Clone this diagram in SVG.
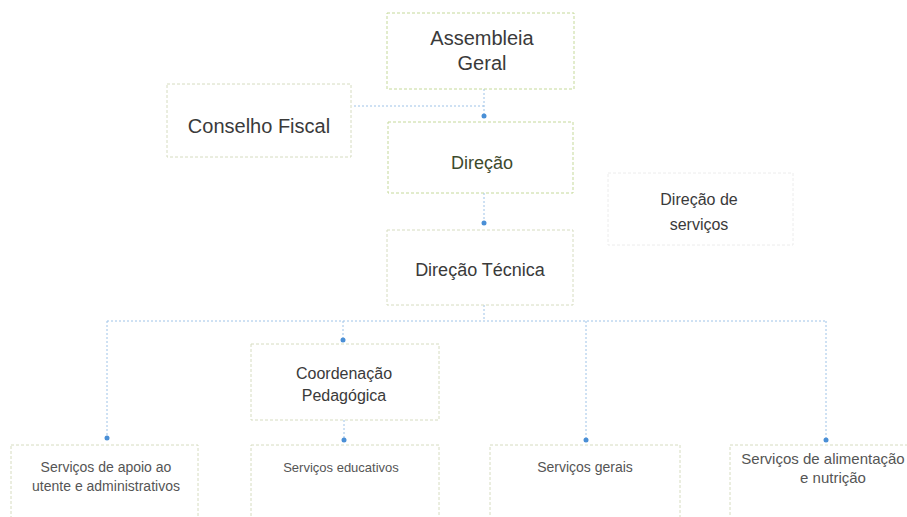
<svg xmlns="http://www.w3.org/2000/svg" width="907" height="517" viewBox="0 0 907 517">
  <style>
    .box { fill: #ffffff; stroke: #d6dcc0; stroke-width: 1; stroke-dasharray: 3 2; }
    .boxg { fill: #ffffff; stroke: #c5d99a; stroke-width: 1; stroke-dasharray: 3 2; }
    .t { font-family: "Liberation Sans", "DejaVu Sans", sans-serif; fill: #3a3a3a; text-anchor: middle; dominant-baseline: central; }
    .s { font-family: "Liberation Sans", "DejaVu Sans", sans-serif; fill: #555555; text-anchor: middle; dominant-baseline: central; }
    .c { fill: none; stroke: #9ec3e8; stroke-width: 1; stroke-dasharray: 2 2; }
  </style>
  <defs>
    <marker id="dot" viewBox="0 0 6 6" refX="3" refY="3" markerWidth="6" markerHeight="6" markerUnits="userSpaceOnUse">
      <circle cx="3" cy="3" r="2.5" fill="#4a8fd6"/>
    </marker>
  </defs>
  <rect width="907" height="517" fill="#ffffff"/>

  <g id="connectors">
    <path class="c" d="M484 89 V116" marker-end="url(#dot)"/>
    <path class="c" d="M484 106 H353"/>
    <path class="c" d="M484 193 V223" marker-end="url(#dot)"/>
    <path class="c" d="M484 305 V321"/>
    <path class="c" d="M107 321 H826"/>
    <path class="c" d="M343 321 V340" marker-end="url(#dot)"/>
    <path class="c" d="M107 321 V438" marker-end="url(#dot)"/>
    <path class="c" d="M344 420 V440" marker-end="url(#dot)"/>
    <path class="c" d="M586 321 V440" marker-end="url(#dot)"/>
    <path class="c" d="M826 321 V440" marker-end="url(#dot)"/>
  </g>

  <g id="assembleia">
    <rect class="boxg" x="387" y="13" width="187" height="76"/>
    <text class="t" x="482" y="38" font-size="20">Assembleia</text>
    <text class="t" x="482" y="63" font-size="20">Geral</text>
  </g>

  <g id="conselho">
    <rect class="box" x="167" y="84" width="184" height="73"/>
    <text class="t" x="259" y="126" font-size="20">Conselho Fiscal</text>
  </g>

  <g id="direcao">
    <rect class="boxg" x="388" y="122" width="185" height="71"/>
    <text class="t" x="482" y="163" font-size="18" style="fill:#3d4a2c">Direção</text>
  </g>

  <g id="direcao-servicos">
    <rect class="box" x="608" y="173" width="185" height="72" style="stroke:#ececec"/>
    <text class="t" x="699" y="199" font-size="16">Direção de</text>
    <text class="t" x="699" y="224" font-size="16">serviços</text>
  </g>

  <g id="direcao-tecnica">
    <rect class="box" x="387" y="230" width="186" height="75"/>
    <text class="t" x="480" y="270" font-size="18">Direção Técnica</text>
  </g>

  <g id="coordenacao">
    <rect class="box" x="251" y="344" width="188" height="76"/>
    <text class="t" x="344" y="373" font-size="16">Coordenação</text>
    <text class="t" x="344" y="395" font-size="16">Pedagógica</text>
  </g>

  <g id="servicos-apoio">
    <rect class="box" x="11" y="445" width="187" height="80"/>
    <text class="s" x="106" y="467" font-size="14">Serviços de apoio ao</text>
    <text class="s" x="106" y="486" font-size="14">utente e administrativos</text>
  </g>

  <g id="servicos-educativos">
    <rect class="box" x="251" y="445" width="188" height="80"/>
    <text class="s" x="341" y="467" font-size="13">Serviços educativos</text>
  </g>

  <g id="servicos-gerais">
    <rect class="box" x="490" y="445" width="190" height="80"/>
    <text class="s" x="585" y="467" font-size="14">Serviços gerais</text>
  </g>

  <g id="servicos-alimentacao">
    <rect class="box" x="730" y="445" width="190" height="80"/>
    <text class="s" x="823" y="458" font-size="15">Serviços de alimentação</text>
    <text class="s" x="833" y="477" font-size="15">e nutrição</text>
  </g>
</svg>
